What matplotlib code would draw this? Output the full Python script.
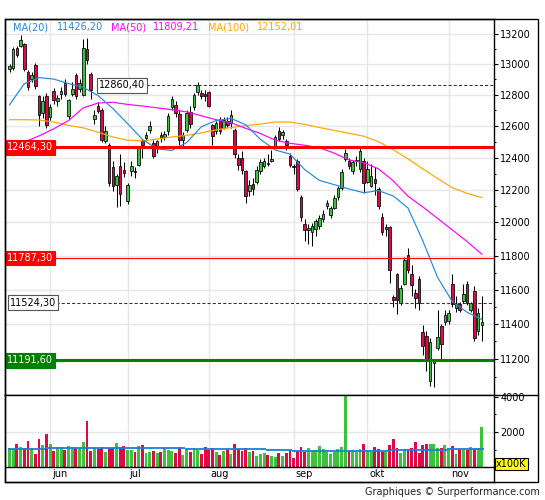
import matplotlib
matplotlib.use("Agg")
import matplotlib.pyplot as plt
import numpy as np
from matplotlib.ticker import FixedLocator, NullFormatter, FuncFormatter
import matplotlib.transforms as mtransforms
from matplotlib.lines import Line2D
from matplotlib.patches import Rectangle

plt.rcParams['font.family'] = ['DejaVu Sans']

# ---------------- data ----------------
opens = [12970, 12975, 13105, 13120, 13135, 12948, 12900, 12995, 12790, 12680,
         12790, 12660, 12825, 12758, 12808, 12875, 12662, 12805, 12932, 12838,
         12800, 13100, 12935, 12645, 12725, 12700, 12505, 12480, 12340, 12232,
         12345, 12320, 12130, 12315, 12316, 12355, 12505, 12525, 12575, 12490,
         12475, 12540, 12530, 12570, 12722, 12735, 12675, 12510, 12575, 12690,
         12720, 12815, 12810, 12805, 12820, 12605, 12565, 12640, 12590, 12632,
         12620, 12575, 12400, 12400, 12315, 12190, 12238, 12250, 12318, 12348,
         12365, 12378, 12470, 12570, 12545, 12505, 12410, 12350, 12380, 12155,
         11990, 11955, 11945, 11960, 11980, 12022, 12100, 12045, 12090, 12155,
         12210, 12392, 12378, 12315, 12378, 12328, 12378, 12250, 12222, 12268,
         12205, 12035, 11960, 11970, 11558, 11690, 11522, 11635, 11805, 11690,
         11577, 11665, 11355, 11330, 11075, 11176, 11262, 11390, 11410, 11415,
         11635, 11490, 11515, 11535, 11630, 11483, 11590, 11360, 11396]
highs = [13000, 13110, 13118, 13195, 13142, 12962, 12948, 13010, 12800, 12790,
         12812, 12740, 12845, 12800, 12850, 12905, 12775, 12880, 12945, 12900,
         13165, 13170, 12950, 12700, 12752, 12712, 12600, 12492, 12380, 12300,
         12420, 12370, 12240, 12380, 12340, 12470, 12520, 12560, 12630, 12510,
         12510, 12560, 12570, 12680, 12790, 12760, 12700, 12560, 12700, 12730,
         12810, 12880, 12830, 12830, 12825, 12610, 12630, 12660, 12660, 12660,
         12700, 12590, 12420, 12440, 12325, 12260, 12270, 12345, 12390, 12395,
         12420, 12450, 12545, 12595, 12575, 12520, 12430, 12360, 12390, 12170,
         12020, 11990, 11995, 12020, 12045, 12075, 12135, 12100, 12165, 12225,
         12330, 12455, 12395, 12385, 12410, 12465, 12400, 12380, 12360, 12340,
         12215, 12060, 11990, 11980, 11570, 11700, 11625, 11790, 11845, 11742,
         11605, 11680, 11395, 11360, 11320, 11200, 11480, 11400, 11480, 11480,
         11690, 11560, 11530, 11630, 11650, 11530, 11620, 11490, 11560]
lows = [12950, 12960, 13045, 13110, 12955, 12830, 12882, 12840, 12598, 12650,
        12590, 12640, 12740, 12725, 12775, 12790, 12645, 12790, 12775, 12815,
        12790, 13000, 12770, 12615, 12685, 12500, 12490, 12225, 12190, 12095,
        12100, 12280, 12110, 12285, 12270, 12345, 12400, 12505, 12555, 12395,
        12430, 12500, 12510, 12540, 12700, 12660, 12480, 12470, 12560, 12590,
        12700, 12800, 12770, 12760, 12720, 12480, 12550, 12550, 12580, 12595,
        12585, 12400, 12320, 12300, 12120, 12160, 12170, 12235, 12300, 12335,
        12345, 12370, 12460, 12505, 12520, 12450, 12340, 12300, 12190, 12010,
        11890, 11870, 11860, 11920, 11960, 12000, 12080, 12030, 12080, 12140,
        12200, 12380, 12330, 12300, 12350, 12310, 12180, 12240, 12215, 12170,
        12085, 11925, 11920, 11640, 11500, 11460, 11510, 11625, 11700, 11565,
        11492, 11480, 11225, 11130, 11050, 11040, 11250, 11195, 11395, 11400,
        11500, 11470, 11470, 11520, 11510, 11470, 11300, 11335, 11305]
closes = [12990, 13098, 13062, 13162, 12968, 12852, 12930, 12855, 12670, 12762,
          12605, 12722, 12765, 12782, 12824, 12805, 12766, 12838, 12792, 12878,
          13105, 13028, 12830, 12672, 12695, 12512, 12568, 12245, 12222, 12285,
          12172, 12302, 12230, 12345, 12308, 12460, 12482, 12545, 12598, 12412,
          12505, 12525, 12550, 12665, 12770, 12682, 12510, 12540, 12680, 12615,
          12800, 12860.4, 12790, 12792, 12730, 12535, 12620, 12565, 12638, 12608,
          12670, 12420, 12355, 12325, 12160, 12232, 12205, 12320, 12372, 12380,
          12358, 12390, 12530, 12520, 12560, 12480, 12355, 12342, 12205, 12035,
          11952, 11965, 11980, 12010, 12030, 12050, 12120, 12090, 12150, 12210,
          12310, 12430, 12345, 12370, 12388, 12440, 12242, 12330, 12285, 12240,
          12100, 11940, 11972, 11715, 11538, 11540, 11610, 11772, 11715, 11625,
          11550, 11524.3, 11274, 11191.6, 11295, 11192, 11325, 11287, 11450, 11465,
          11518, 11515, 11482, 11575, 11522, 11520, 11322, 11465, 11412]
volumes = [1105, 1029, 1334, 1162, 1086, 1505, 1105, 762, 1619, 1276,
           1905, 1334, 933, 1162, 1162, 991, 1219, 1162, 1105, 1105,
           1448, 2648, 933, 1105, 1010, 1162, 876, 1105, 1105, 1391,
           1162, 1219, 991, 991, 876, 1219, 1276, 819, 876, 933,
           819, 876, 1105, 991, 933, 819, 1162, 705, 1010, 876,
           1105, 991, 762, 1162, 991, 1105, 876, 705, 933, 1048,
           762, 1334, 1048, 933, 1105, 876, 933, 648, 762, 819,
           705, 648, 591, 819, 648, 819, 991, 533, 933, 1162,
           876, 1105, 933, 991, 1219, 1048, 876, 762, 876, 1048,
           1162, 4300, 933, 991, 876, 1048, 1334, 933, 876, 1162,
           1048, 876, 876, 1276, 1619, 1105, 819, 991, 1048, 1105,
           1448, 819, 1276, 1334, 1334, 1334, 1105, 1105, 1276, 1105,
           1219, 762, 1048, 991, 991, 1162, 1048, 1105, 2305]

# moving averages, every 4th session
ma_idx = list(range(0, 129, 4))
ma20 = [12735, 12872, 12912, 12902, 12873, 12848, 12795, 12712, 12615, 12515,
        12455, 12445, 12495, 12595, 12635, 12648, 12608, 12515, 12448, 12422,
        12325, 12258, 12232, 12205, 12182, 12195, 12162, 12088, 11890, 11672,
        11530, 11468, 11426.20]
ma50 = [12462, 12498, 12537, 12582, 12635, 12716, 12747, 12752, 12738, 12728,
        12716, 12704, 12690, 12665, 12640, 12620, 12585, 12552, 12510, 12490,
        12478, 12462, 12428, 12385, 12368, 12330, 12255, 12160, 12095, 12025,
        11955, 11885, 11809.21]
ma100 = [12640, 12640, 12638, 12625, 12603, 12588, 12560, 12530, 12510, 12505,
         12517, 12530, 12540, 12556, 12575, 12590, 12602, 12612, 12625, 12625,
         12610, 12590, 12572, 12553, 12535, 12500, 12450, 12392, 12330, 12270,
         12213, 12178, 12152.01]
ma_names = ['MA(20)', 'MA(50)', 'MA(100)']
ma_last = ['11426,20', '11809,21', '12152,01']

# volume average (stepwise)
vavg_breaks = [-0.5, 9.5, 47.5, 69.5, 76.5, 103.5, 118.5, 123.5, 124.5, 128.5]
vavg_vals = [1045, 1095, 1037, 980, 913, 970, 1037, 1010, 1037]

month_names = ['jun', 'jul', 'aug', 'sep', 'okt', 'nov']
month_starts = [11, 32, 54, 77, 97, 119]

levels = [12860.40, 12464.30, 11787.30, 11524.30, 11191.60]
level_labels = ['12860,40', '12464,30', '11787,30', '11524,30', '11191,60']

price_ticks = [11200, 11400, 11600, 11800, 12000, 12200, 12400, 12600, 12800, 13000, 13200]
price_minor = [11000, 11100, 11300, 11500, 11700, 11900, 12100, 12300, 12500, 12700, 12900, 13100, 13300]
vol_ticks = [2000, 4000]
vol_minor = [1000, 3000]

# ---------------- layout ----------------
W, H = 545, 500
fig = plt.figure(figsize=(W / 100, H / 100), dpi=100)
fig.patch.set_facecolor('white')

def fx(x):
    return x / W

def fy(y):
    return 1 - y / H

L, R, T, MID, B, OUT = 5, 494, 19, 395, 482, 538
ax = fig.add_axes([fx(L), fy(MID), (R - L) / W, (MID - T) / H])
axv = fig.add_axes([fx(L), fy(B), (R - L) / W, (B - MID) / H])

GREEN = '#3cc23c'
RED = '#dd0a48'
C20, C50, C100 = '#1e8be0', '#ff00ff', '#ffa500'
GRID = '#e6e6e6'

x0, x1 = -1.22, 131.3
for a in (ax, axv):
    a.set_xlim(x0, x1)
    for s in a.spines.values():
        s.set_linewidth(1.0)
        s.set_color('black')
    a.tick_params(axis='x', which='both', bottom=False, labelbottom=False, top=False)
    a.yaxis.tick_right()
    a.set_axisbelow(True)

# ---- price panel ----
ax.set_yscale('log')
ax.set_ylim(10998, 13300)
ax.yaxis.set_major_locator(FixedLocator(price_ticks))
ax.yaxis.set_minor_locator(FixedLocator(price_minor))
ax.yaxis.set_major_formatter(FuncFormatter(lambda v, p: f"{v:.0f}"))
ax.yaxis.set_minor_formatter(NullFormatter())
ax.tick_params(axis='y', which='major', direction='out', length=3, width=0.8,
               labelsize=7, pad=1.5)
ax.tick_params(axis='y', which='minor', direction='out', length=1.6, width=0.8)
ax.set_xticks(month_starts)
ax.grid(True, which='major', color=GRID, lw=1.0)

idx = np.arange(len(closes))
o = np.array(opens, float)
h = np.array(highs, float)
l = np.array(lows, float)
c = np.array(closes, float)
up = c >= o
cols = [GREEN if u else RED for u in up]
ax.vlines(idx, l, h, color='black', lw=0.75, zorder=2)
body_bot = np.minimum(o, c)
body_h = np.maximum(np.abs(c - o), 2.0)
ax.bar(idx, body_h, bottom=body_bot, width=0.7, color=cols, edgecolor='black',
       linewidth=0.55, zorder=3)

ax.plot(ma_idx, ma100, color=C100, lw=0.85, zorder=4)
ax.plot(ma_idx, ma50, color=C50, lw=0.85, zorder=4)
ax.plot(ma_idx, ma20, color=C20, lw=0.85, zorder=4)

blend = mtransforms.blended_transform_factory(ax.transAxes, ax.transData)
def pxfrac(xp):
    return (xp - L) / (R - L)

# level lines
ax.axhline(levels[0], xmin=pxfrac(146), xmax=1, color='#333333', lw=0.75,
           ls=(0, (3, 2)), zorder=5)
ax.axhline(levels[1], color='#ff0000', lw=2.2, zorder=5)
ax.axhline(levels[2], color='#ff0000', lw=0.8, zorder=5)
ax.axhline(levels[3], xmin=pxfrac(56), xmax=1, color='#333333', lw=0.75,
           ls=(0, (3, 2)), zorder=5)
ax.axhline(levels[4], color='#008000', lw=2.2, zorder=5)

lab_style = [
    (pxfrac(99), 'black', 'white', '#555555'),
    (pxfrac(7), 'white', '#ff0000', '#ff0000'),
    (pxfrac(7), 'white', '#ff0000', '#ff0000'),
    (pxfrac(10), 'black', 'white', '#555555'),
    (pxfrac(7), 'white', '#008000', '#008000'),
]
for lv, lab, (xf, tc, fc, ec) in zip(levels, level_labels, lab_style):
    ax.text(xf, lv, lab, transform=blend, ha='left', va='center', fontsize=7,
            color=tc, zorder=8,
            bbox=dict(boxstyle='square,pad=0.22', fc=fc, ec=ec, lw=0.8))

# ---- volume panel ----
axv.set_ylim(-840, 4100)
axv.yaxis.set_major_locator(FixedLocator(vol_ticks))
axv.yaxis.set_minor_locator(FixedLocator(vol_minor))
axv.yaxis.set_major_formatter(FuncFormatter(lambda v, p: f"{v:.0f}"))
axv.yaxis.set_minor_formatter(NullFormatter())
axv.tick_params(axis='y', which='major', direction='out', length=3, width=0.8,
                labelsize=7, pad=1.5)
axv.tick_params(axis='y', which='minor', direction='out', length=1.6, width=0.8)
axv.hlines(2000, x0, x1, color=GRID, lw=1.0, zorder=0)
axv.vlines(month_starts, 0, 4100, color=GRID, lw=1.0, zorder=0)
axv.bar(idx, volumes, width=0.78, color=cols, linewidth=0, zorder=2)
axv.axhline(0, color='black', lw=1.0, zorder=3)
axv.hlines(vavg_vals, vavg_breaks[:-1], vavg_breaks[1:], color='#1a7fd8', lw=1.3, zorder=4)

vblend = mtransforms.blended_transform_factory(axv.transData, axv.transAxes)
for ms, name in zip(month_starts, month_names):
    axv.text(ms + 0.55, (B - 474) / (B - MID), name, transform=vblend, ha='left',
             va='center', fontsize=7, color='black')

# ---- frame and extra texts ----
fig.add_artist(Rectangle((fx(L), fy(B)), (OUT - L) / W, (B - T) / H, fill=False,
                         ec='black', lw=1.0, transform=fig.transFigure, zorder=10))
fig.add_artist(Line2D([fx(R), fx(OUT)], [fy(MID), fy(MID)], color='black', lw=1.0,
                      transform=fig.transFigure, zorder=10))

fig.text(fx(496), fy(464), 'x100K', ha='left', va='center', fontsize=7, color='black',
         bbox=dict(boxstyle='square,pad=0.15', fc='#ffff00', ec='black', lw=0.8),
         zorder=11)

leg_x = [13, 57, 111, 153, 208, 257]
leg_txt = [ma_names[0], ma_last[0], ma_names[1], ma_last[1], ma_names[2], ma_last[2]]
leg_col = [C20, C20, C50, C50, C100, C100]
for xp, t, col in zip(leg_x, leg_txt, leg_col):
    fig.text(fx(xp), fy(27), t, ha='left', va='center', fontsize=7, color=col, zorder=11)

fig.text(fx(540), fy(492), 'Graphiques \u00a9 Surperformance.com', ha='right',
         va='center', fontsize=7, color='#222222')

fig.savefig('out.png', dpi=100, facecolor='white')
